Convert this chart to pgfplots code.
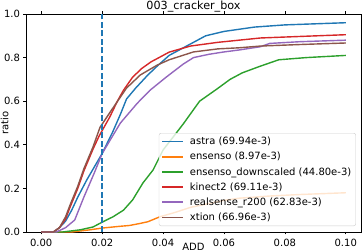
\documentclass[border=0pt]{standalone}
\usepackage{pgfplots}
\pgfplotsset{compat=1.18}
\usepackage{fontspec}
\setmainfont{DejaVu Sans}
\definecolor{tblue}{HTML}{1F77B4}
\definecolor{torange}{HTML}{FF7F0E}
\definecolor{tgreen}{HTML}{2CA02C}
\definecolor{tred}{HTML}{D62728}
\definecolor{tpurple}{HTML}{9467BD}
\definecolor{tbrown}{HTML}{8C564B}
\begin{document}
\begin{tikzpicture}
\path[use as bounding box] (-26pt,-20pt) rectangle (336pt,232pt);
\begin{axis}[
  scale only axis,
  width=335pt, height=218pt,
  xmin=-0.005, xmax=0.105, ymin=0, ymax=1,
  xtick={0,0.02,0.04,0.06,0.08,0.1},
  ytick={0,0.2,0.4,0.6,0.8,1.0},
  scaled x ticks=false,
  xticklabel style={/pgf/number format/fixed, /pgf/number format/fixed zerofill, /pgf/number format/precision=2, /pgf/number format/assume math mode=true, yshift=-1pt},
  yticklabel style={/pgf/number format/fixed, /pgf/number format/fixed zerofill, /pgf/number format/precision=1, /pgf/number format/assume math mode=true},
  tick style={black, line width=0.6pt},
  tick align=outside,
  major tick length=2.5pt,
  axis line style={line width=0.7pt},
  font=\fontsize{10}{12}\selectfont,
  tick label style={font=\fontsize{10}{12}\selectfont},
  xlabel={ADD},
  xlabel style={at={(axis description cs:0.5,0)}, anchor=north, inner sep=0pt, yshift=-11pt},
  ylabel={ratio},
  ylabel style={at={(axis description cs:-0.064,0.5)}, anchor=center, inner sep=0pt},
  every axis plot/.append style={line width=1.4pt},
  clip=false,
  legend cell align=left,
  legend style={at={(0.985,0.0275)}, anchor=south east, draw=black!20, fill=white, fill opacity=0.8, text opacity=1, rounded corners=2pt, font=\fontsize{10}{12}\selectfont, row sep=2pt, column sep=4pt, inner xsep=2.5pt, inner ysep=2pt},
  legend image code/.code={\draw[#1, line width=1.4pt] (0pt,0pt) -- (21pt,0pt);},
]
\addplot[tblue] coordinates {(0,0)(0.004,0)(0.006,0.02)(0.008,0.05)(0.01,0.1)(0.012,0.16)(0.015,0.24)(0.0175,0.30)(0.02,0.36)(0.0235,0.46)(0.026,0.54)(0.028,0.61)(0.031,0.66)(0.035,0.72)(0.038,0.76)(0.042,0.81)(0.046,0.84)(0.05,0.87)(0.054,0.90)(0.06,0.92)(0.065,0.93)(0.07,0.94)(0.08,0.95)(0.09,0.955)(0.1,0.96)};
\addlegendentry{astra (69.94e-3)}
\addplot[torange] coordinates {(0,0)(0.01,0)(0.013,0.005)(0.016,0.01)(0.02,0.018)(0.025,0.025)(0.029,0.03)(0.032,0.038)(0.035,0.047)(0.039,0.07)(0.044,0.09)(0.049,0.113)(0.055,0.13)(0.06,0.145)(0.065,0.155)(0.075,0.165)(0.085,0.172)(0.1,0.18)};
\addlegendentry{ensenso (8.97e-3)}
\addplot[tgreen] coordinates {(0,0)(0.007,0)(0.0128,0.01)(0.017,0.023)(0.02,0.045)(0.0236,0.07)(0.027,0.1)(0.030,0.147)(0.0334,0.225)(0.0367,0.284)(0.04,0.376)(0.043,0.43)(0.0466,0.495)(0.052,0.60)(0.0577,0.656)(0.062,0.70)(0.066,0.73)(0.0718,0.76)(0.078,0.79)(0.087,0.80)(0.1,0.81)};
\addlegendentry{ensenso\_downscaled (44.80e-3)}
\addplot[tred] coordinates {(0,0)(0.004,0)(0.006,0.02)(0.008,0.06)(0.0095,0.115)(0.012,0.2)(0.014,0.28)(0.017,0.38)(0.019,0.44)(0.0226,0.53)(0.025,0.6)(0.027,0.65)(0.03,0.71)(0.033,0.75)(0.036,0.78)(0.042,0.825)(0.049,0.853)(0.058,0.87)(0.065,0.88)(0.072,0.89)(0.085,0.897)(0.1,0.905)};
\addlegendentry{kinect2 (69.11e-3)}
\addplot[tpurple] coordinates {(0,0)(0.005,0)(0.008,0.02)(0.011,0.055)(0.014,0.16)(0.0174,0.27)(0.02,0.36)(0.023,0.43)(0.026,0.5)(0.0315,0.59)(0.0357,0.65)(0.041,0.71)(0.0466,0.77)(0.05,0.80)(0.055,0.815)(0.06,0.826)(0.065,0.835)(0.072,0.85)(0.075,0.865)(0.085,0.873)(0.1,0.88)};
\addlegendentry{realsense\_r200 (62.83e-3)}
\addplot[tbrown] coordinates {(0,0)(0.004,0)(0.006,0.02)(0.008,0.07)(0.0095,0.125)(0.012,0.21)(0.014,0.29)(0.017,0.39)(0.0193,0.48)(0.0236,0.57)(0.028,0.66)(0.0325,0.72)(0.038,0.765)(0.042,0.79)(0.05,0.826)(0.058,0.84)(0.065,0.845)(0.072,0.853)(0.085,0.86)(0.1,0.867)};
\addlegendentry{xtion (66.96e-3)}
\addplot[tblue, line width=1.8pt, dash pattern=on 6pt off 2.5pt, forget plot] coordinates {(0.02,0)(0.02,1)};
\node[font=\fontsize{11.2}{13}\selectfont, anchor=base, inner sep=0pt] at (rel axis cs:0.5,1) [yshift=4pt] {003\_cracker\_box};
\end{axis}
\end{tikzpicture}
\end{document}
